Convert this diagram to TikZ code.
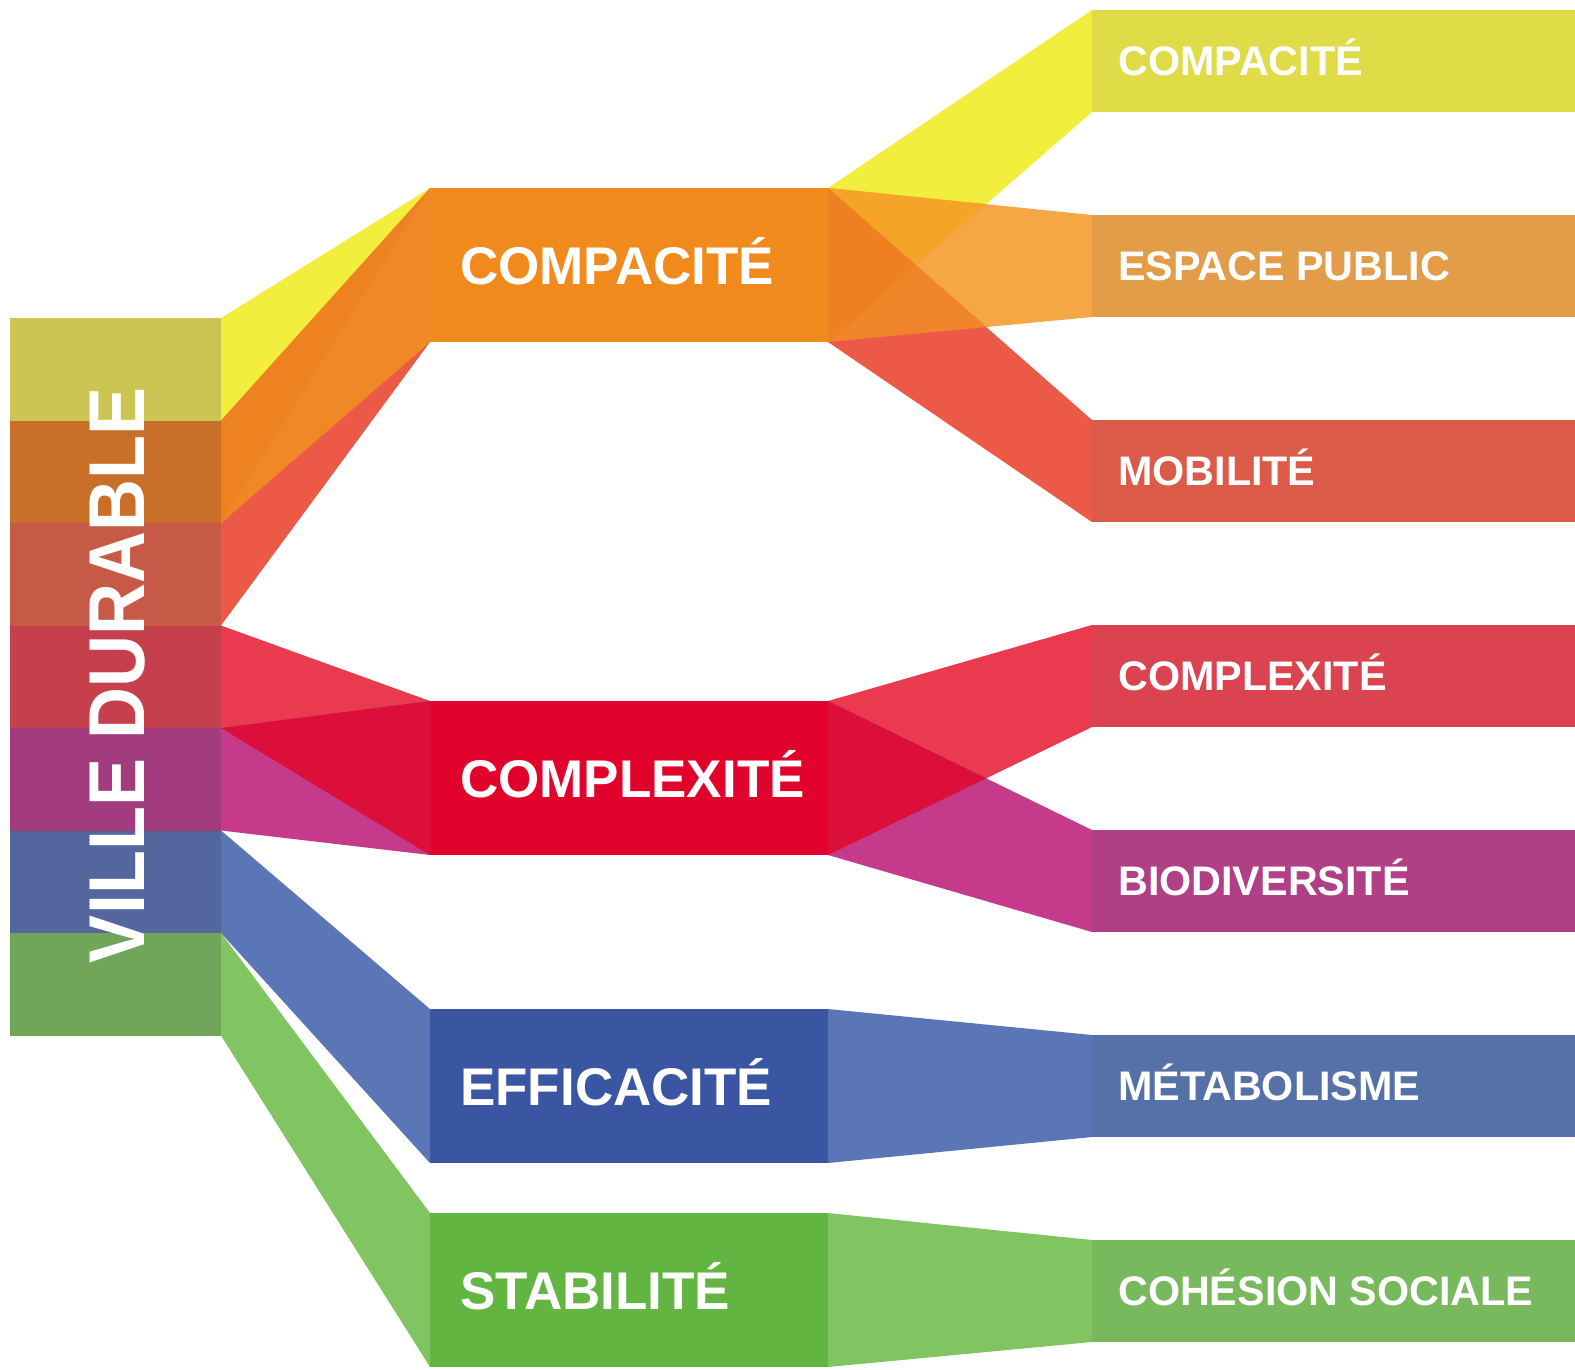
\documentclass[tikz,border=0pt]{standalone}
\usepackage{fontspec}
\setmainfont{Liberation Sans}
\usepackage{graphicx}
% colours of the left column
\definecolor{lA}{HTML}{CCC553}
\definecolor{lB}{HTML}{C8702A}
\definecolor{lC}{HTML}{C65A46}
\definecolor{lD}{HTML}{C5404C}
\definecolor{lE}{HTML}{A33C7F}
\definecolor{lF}{HTML}{54669E}
\definecolor{lG}{HTML}{70A55A}
% middle boxes
\definecolor{mA}{HTML}{F18A1D}
\definecolor{mB}{HTML}{E2032C}
\definecolor{mC}{HTML}{3A56A3}
\definecolor{mD}{HTML}{62B540}
% right boxes
\definecolor{rA}{HTML}{DFDC48}
\definecolor{rB}{HTML}{E39C47}
\definecolor{rC}{HTML}{DB5B48}
\definecolor{rD}{HTML}{DB4350}
\definecolor{rE}{HTML}{B13F85}
\definecolor{rF}{HTML}{5670A8}
\definecolor{rG}{HTML}{78B95E}
% ribbons
\definecolor{bYel}{HTML}{F2EE3E}
\definecolor{bOra}{HTML}{EF8220}
\definecolor{bOraB}{HTML}{F18828}
\definecolor{bOraL}{HTML}{F5A745}
\definecolor{bRed}{HTML}{EC5A47}
\definecolor{bPnk}{HTML}{EA3A50}
\definecolor{bMag}{HTML}{C63A8C}
\definecolor{bDrk}{HTML}{DC0E3A}
\definecolor{bBlu}{HTML}{5A76B6}
\definecolor{bGrn}{HTML}{81C563}
\definecolor{bYO}{HTML}{F4A426}
\definecolor{bOR}{HTML}{F08529}
\definecolor{bYOR}{HTML}{EF8021}
\begin{document}
\begin{tikzpicture}[x=1pt,y=-1pt,
  lrow/.style={rectangle, inner sep=0pt, outer sep=0pt, anchor=north west, minimum width=211pt, minimum height=102.5pt},
  mbox/.style={rectangle, inner sep=0pt, outer sep=0pt, anchor=north west, minimum width=398pt, minimum height=154pt},
  rbox/.style={rectangle, inner sep=0pt, outer sep=0pt, anchor=north west, minimum width=483pt, minimum height=102pt},
  mlab/.style={text=white, font=\fontsize{53}{60}\selectfont\bfseries, anchor=base west, inner sep=0pt},
  rlab/.style={text=white, font=\fontsize{41.3}{48}\selectfont\bfseries, anchor=base west, inner sep=0pt}]
\useasboundingbox (0,0) rectangle (1575,1369);
% left column
\node [lrow, fill=lA] (l1) at (10,318) {};
\node [lrow, fill=lB] (l2) at (10,420.5) {};
\node [lrow, fill=lC] (l3) at (10,523) {};
\node [lrow, fill=lD] (l4) at (10,625.5) {};
\node [lrow, fill=lE] (l5) at (10,728) {};
\node [lrow, fill=lF] (l6) at (10,830.5) {};
\node [lrow, fill=lG] (l7) at (10,933) {};
\node [rotate=90, text=white, inner sep=0pt, font=\fontsize{72}{80}\selectfont\bfseries] (ville) at (118,675) {\scalebox{1}[1.1]{VILLE DURABLE}};
% middle boxes
\node [mbox, fill=mA] (cpa) at (430,188) {};
\node [mbox, fill=mB] (cpx) at (430,701) {};
\node [mbox, fill=mC] (eff) at (430,1009) {};
\node [mbox, fill=mD] (sta) at (430,1213) {};
% right boxes
\node [rbox, fill=rA] (r1) at (1092,10) {};
\node [rbox, fill=rB] (r2) at (1092,215) {};
\node [rbox, fill=rC] (r3) at (1092,420) {};
\node [rbox, fill=rD] (r4) at (1092,625) {};
\node [rbox, fill=rE] (r5) at (1092,830) {};
\node [rbox, fill=rF] (r6) at (1092,1035) {};
\node [rbox, fill=rG] (r7) at (1092,1240) {};
% ribbons left -> compacite
\fill [bYel] (l1.north east) -- (cpa.north west) -- (cpa.south west) -- (l1.south east) -- cycle;
\fill [bRed] (l3.north east) -- (cpa.north west) -- (cpa.south west) -- (l3.south east) -- cycle;
\fill [bOra] (l2.north east) -- (cpa.north west) -- (cpa.south west) -- (l2.south east) -- cycle;
\begin{scope}
\clip (l3.north east) -- (cpa.north west) -- (cpa.south west) -- (l3.south east) -- cycle;
\fill [bOraB] (l2.north east) -- (cpa.north west) -- (cpa.south west) -- (l2.south east) -- cycle;
\end{scope}
% ribbons left -> complexite
\fill [bPnk] (l4.north east) -- (cpx.north west) -- (cpx.south west) -- (l4.south east) -- cycle;
\fill [bMag] (l5.north east) -- (cpx.north west) -- (cpx.south west) -- (l5.south east) -- cycle;
\begin{scope}
\clip (l4.north east) -- (cpx.north west) -- (cpx.south west) -- (l4.south east) -- cycle;
\fill [bDrk] (l5.north east) -- (cpx.north west) -- (cpx.south west) -- (l5.south east) -- cycle;
\end{scope}
% ribbons left -> efficacite, stabilite
\fill [bBlu] (l6.north east) -- (eff.north west) -- (eff.south west) -- (l6.south east) -- cycle;
\fill [bGrn] (l7.north east) -- (sta.north west) -- (sta.south west) -- (l7.south east) -- cycle;
% ribbons compacite -> right
\fill [bYel] (cpa.north east) -- (r1.north west) -- (r1.south west) -- (cpa.south east) -- cycle;
\fill [bOraL] (cpa.north east) -- (r2.north west) -- (r2.south west) -- (cpa.south east) -- cycle;
\fill [bRed] (cpa.north east) -- (r3.north west) -- (r3.south west) -- (cpa.south east) -- cycle;
\begin{scope}
\clip (cpa.north east) -- (r1.north west) -- (r1.south west) -- (cpa.south east) -- cycle;
\fill [bYO] (cpa.north east) -- (r2.north west) -- (r2.south west) -- (cpa.south east) -- cycle;
\end{scope}
\begin{scope}
\clip (cpa.north east) -- (r2.north west) -- (r2.south west) -- (cpa.south east) -- cycle;
\fill [bOR] (cpa.north east) -- (r3.north west) -- (r3.south west) -- (cpa.south east) -- cycle;
\end{scope}
\begin{scope}
\clip (cpa.north east) -- (r1.north west) -- (r1.south west) -- (cpa.south east) -- cycle;
\clip (cpa.north east) -- (r2.north west) -- (r2.south west) -- (cpa.south east) -- cycle;
\fill [bYOR] (cpa.north east) -- (r3.north west) -- (r3.south west) -- (cpa.south east) -- cycle;
\end{scope}
% ribbons complexite -> right
\fill [bPnk] (cpx.north east) -- (r4.north west) -- (r4.south west) -- (cpx.south east) -- cycle;
\fill [bMag] (cpx.north east) -- (r5.north west) -- (r5.south west) -- (cpx.south east) -- cycle;
\begin{scope}
\clip (cpx.north east) -- (r4.north west) -- (r4.south west) -- (cpx.south east) -- cycle;
\fill [bDrk] (cpx.north east) -- (r5.north west) -- (r5.south west) -- (cpx.south east) -- cycle;
\end{scope}
% ribbons efficacite, stabilite -> right
\fill [bBlu] (eff.north east) -- (r6.north west) -- (r6.south west) -- (eff.south east) -- cycle;
\fill [bGrn] (sta.north east) -- (r7.north west) -- (r7.south west) -- (sta.south east) -- cycle;
% labels
\node [mlab] (tcpa) at ([xshift=30pt,yshift=-19pt]cpa.west) {COMPACITÉ};
\node [mlab] (tcpx) at ([xshift=30pt,yshift=-19pt]cpx.west) {COMPLEXITÉ};
\node [mlab] (teff) at ([xshift=30pt,yshift=-19pt]eff.west) {EFFICACITÉ};
\node [mlab] (tsta) at ([xshift=30pt,yshift=-19pt]sta.west) {STABILITÉ};
\node [rlab] (t1) at ([xshift=26pt,yshift=-14.8pt]r1.west) {COMPACITÉ};
\node [rlab] (t2) at ([xshift=26pt,yshift=-14.8pt]r2.west) {ESPACE PUBLIC};
\node [rlab] (t3) at ([xshift=26pt,yshift=-14.8pt]r3.west) {MOBILITÉ};
\node [rlab] (t4) at ([xshift=26pt,yshift=-14.8pt]r4.west) {COMPLEXITÉ};
\node [rlab] (t5) at ([xshift=26pt,yshift=-14.8pt]r5.west) {BIODIVERSITÉ};
\node [rlab] (t6) at ([xshift=26pt,yshift=-14.8pt]r6.west) {MÉTABOLISME};
\node [rlab] (t7) at ([xshift=26pt,yshift=-14.8pt]r7.west) {COHÉSION SOCIALE};
\end{tikzpicture}
\end{document}
